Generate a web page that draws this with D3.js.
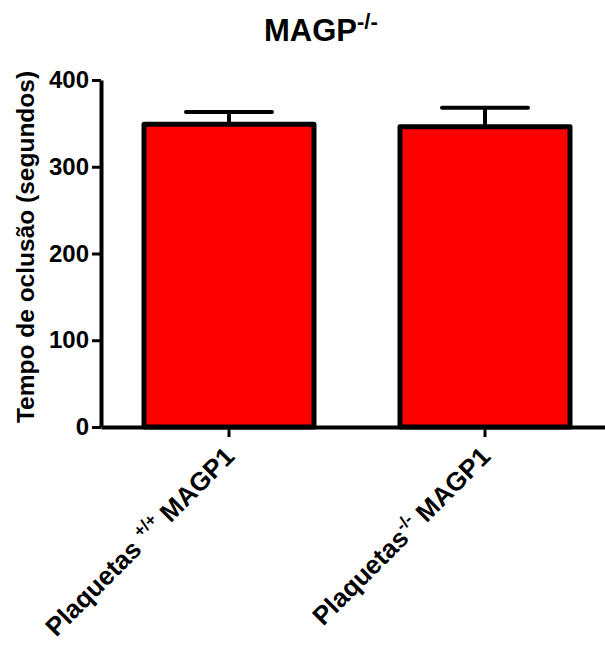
<!DOCTYPE html>
<html>
<head>
<meta charset="utf-8">
<script src="https://cdn.jsdelivr.net/npm/d3@7"></script>
<style>
  html, body { margin: 0; padding: 0; background: #fff; }
  svg { display: block; font-family: "Liberation Sans", Arial, Helvetica, sans-serif; font-weight: bold; }
</style>
</head>
<body>
<svg id="chart" width="605" height="645"></svg>
<script>
// Occlusion time per platelet genotype (mean ± SEM, seconds)
const groups = ["wt", "ko"];
const labelMain = ["Plaquetas", "Plaquetas"];
const labelSup = ["+/+", "-/-"];
const labelTail = [" MAGP1", " MAGP1"];
const meanValues = [349, 346];
const semValues = [14, 22];
const yTicks = [0, 100, 200, 300, 400];

const svg = d3.select("#chart");

const y = d3.scaleLinear().domain([0, 400]).range([427, 80]);
const x = d3.scaleBand().domain(groups).range([101, 613])
  .paddingInner(0.336).paddingOuter(0.168);

// Bars
svg.append("g").selectAll("rect")
  .data(groups)
  .join("rect")
  .attr("x", d => x(d))
  .attr("y", (d, i) => y(meanValues[i]))
  .attr("width", x.bandwidth())
  .attr("height", (d, i) => y(0) - y(meanValues[i]))
  .attr("fill", "#ff0000")
  .attr("stroke", "#000")
  .attr("stroke-width", 5)
  .attr("stroke-linejoin", "round");

// Upper error bars
const capHalf = 43;
const err = svg.append("g").attr("stroke", "#000").attr("stroke-width", 4).attr("stroke-linecap", "round");
groups.forEach((g, i) => {
  const cx = x(g) + x.bandwidth() / 2;
  err.append("line")
    .attr("x1", cx).attr("x2", cx)
    .attr("y1", y(meanValues[i])).attr("y2", y(meanValues[i] + semValues[i]));
  err.append("line")
    .attr("x1", cx - capHalf).attr("x2", cx + capHalf)
    .attr("y1", y(meanValues[i] + semValues[i])).attr("y2", y(meanValues[i] + semValues[i]));
});

// Y axis
const yAxis = svg.append("g")
  .attr("transform", "translate(101,0)")
  .call(d3.axisLeft(y).tickValues(yTicks).tickSize(9).tickSizeOuter(0).tickPadding(3));
yAxis.select(".domain").attr("stroke-width", 4);
yAxis.selectAll(".tick line").attr("stroke-width", 3);
yAxis.selectAll(".tick text")
  .attr("font-size", 24).attr("font-weight", "bold")
  .attr("font-family", "Liberation Sans, Arial, sans-serif")
  .attr("fill", "#000");

// X axis
const xAxis = svg.append("g")
  .attr("transform", `translate(0,${y(0)})`)
  .call(d3.axisBottom(x).tickSize(10).tickSizeOuter(0).tickFormat(""));
xAxis.select(".domain").attr("stroke-width", 4);
xAxis.selectAll(".tick line").attr("stroke-width", 3);

// Rotated category labels with superscript genotype
groups.forEach((g, i) => {
  const cx = x(g) + x.bandwidth() / 2;
  const t = svg.append("text")
    .attr("transform", `translate(${cx + 7},458) rotate(-45)`)
    .attr("text-anchor", "end")
    .attr("font-size", 26)
    .attr("fill", "#000");
  t.append("tspan").text(labelMain[i] + (i === 0 ? " " : ""));
  t.append("tspan").attr("font-size", 17).attr("dy", -11).text(labelSup[i]);
  t.append("tspan").attr("dy", 11).text(labelTail[i]);
});

// Y axis title
svg.append("text")
  .attr("transform", "translate(34,247) rotate(-90)")
  .attr("text-anchor", "middle")
  .attr("font-size", 24.5)
  .attr("fill", "#000")
  .text("Tempo de oclusão (segundos)");

// Chart title
const title = svg.append("text")
  .attr("x", 264).attr("y", 41)
  .attr("font-size", 31)
  .attr("fill", "#000");
title.append("tspan").text("MAGP");
title.append("tspan").attr("font-size", 22).attr("dy", -12).text("-/-");
</script>
</body>
</html>
